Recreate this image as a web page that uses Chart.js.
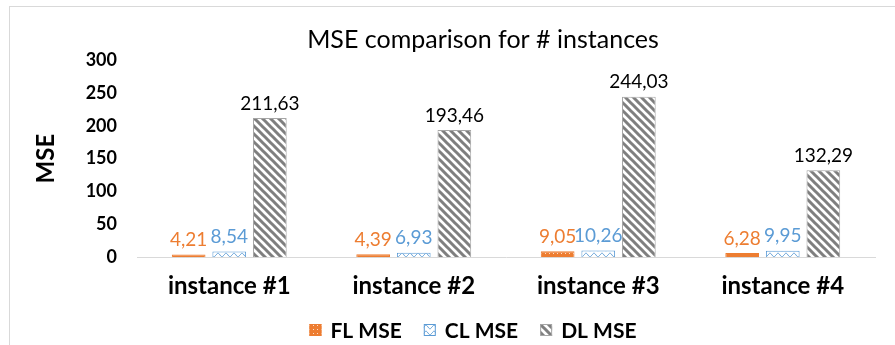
<!DOCTYPE html>
<html>
<head>
<meta charset="utf-8">
<script src="https://cdn.jsdelivr.net/npm/chart.js@4/dist/chart.umd.min.js"></script>
<style>
  html, body { margin: 0; padding: 0; background: #fff; overflow: hidden; }
  #wrap { position: relative; width: 895px; height: 345px; }
  #frame { position: absolute; left: 9px; top: 6px; width: 900px; height: 360px;
           border-left: 1px solid #d9d9d9; border-top: 1px solid #d9d9d9; }
  canvas { position: absolute; left: 0; top: 0; }
</style>
</head>
<body>
<div id="wrap">
  <div id="frame"></div>
  <canvas id="chart" width="895" height="345"></canvas>
</div>
<script>
// данные
const categories = ['instance #1', 'instance #2', 'instance #3', 'instance #4'];
const flMse = [4.21, 4.39, 9.05, 6.28];
const clMse = [8.54, 6.93, 10.26, 9.95];
const dlMse = [211.63, 193.46, 244.03, 132.29];
const yTicks = [0, 50, 100, 150, 200, 250, 300];
const chartTitle = 'MSE comparison for # instances';

const ORANGE = '#ED7D31';
const BLUE = '#5B9BD5';
const GREY = '#7F7F7F';

// узоры для заливки столбцов
function makePattern(w, h, draw) {
    const c = document.createElement('canvas');
    c.width = w; c.height = h;
    const g = c.getContext('2d');
    draw(g);
    return g.createPattern(c, 'repeat');
}

const flPattern = makePattern(4, 4, g => {
    g.fillStyle = ORANGE;
    g.fillRect(0, 0, 4, 4);
    g.fillStyle = 'rgba(255,255,255,0.75)';
    g.fillRect(1, 1, 1, 1);
});

const clPattern = makePattern(8, 6, g => {
    g.fillStyle = '#fff';
    g.fillRect(0, 0, 8, 6);
    g.strokeStyle = BLUE;
    g.lineWidth = 1;
    g.beginPath();
    g.moveTo(0, 3);
    g.bezierCurveTo(2, 0.5, 2, 0.5, 4, 3);
    g.bezierCurveTo(6, 5.5, 6, 5.5, 8, 3);
    g.stroke();
});

const dlPattern = makePattern(8, 8, g => {
    g.fillStyle = '#fff';
    g.fillRect(0, 0, 8, 8);
    g.strokeStyle = GREY;
    g.lineWidth = 3;
    g.beginPath();
    g.moveTo(-2, -2); g.lineTo(10, 10);
    g.moveTo(-10, -2); g.lineTo(2, 10);
    g.moveTo(6, -2); g.lineTo(18, 10);
    g.stroke();
});

const fmt = v => v.toFixed(2).replace('.', ',');

// подписи значений над столбцами
const valueLabels = {
    id: 'valueLabels',
    afterDatasetsDraw(chart) {
        const ctx = chart.ctx;
        ctx.save();
        ctx.font = '19px Lato';
        ctx.textAlign = 'center';
        ctx.textBaseline = 'bottom';
        chart.data.datasets.forEach((ds, i) => {
            const meta = chart.getDatasetMeta(i);
            ctx.fillStyle = ds.labelColor;
            meta.data.forEach((bar, j) => {
                ctx.fillText(fmt(ds.data[j]), bar.x, bar.y - 5);
            });
        });
        ctx.restore();
    }
};

// заголовок и легенда: заголовок по центру рамки, легенда внизу
const titleAndLegend = {
    id: 'titleAndLegend',
    afterDraw(chart) {
        const ctx = chart.ctx;
        ctx.save();
        ctx.fillStyle = '#000';
        ctx.font = '25px Lato';
        ctx.textAlign = 'center';
        ctx.textBaseline = 'middle';
        ctx.fillText(chartTitle, 483, 40);

        const box = 12, gap = 9, spacing = 22, y = 330;
        ctx.font = 'bold 21px Lato';
        ctx.textAlign = 'left';
        const items = chart.data.datasets.map(ds => ({ ds, w: ctx.measureText(ds.label).width }));
        const total = items.reduce((s, it) => s + box + gap + it.w, 0) + spacing * (items.length - 1);
        let x = 473 - total / 2;
        items.forEach(({ ds, w }) => {
            ctx.fillStyle = ds.backgroundColor;
            ctx.fillRect(x, y - box / 2, box, box);
            ctx.strokeStyle = ds.borderColor;
            ctx.lineWidth = 1;
            ctx.strokeRect(x + 0.5, y - box / 2 + 0.5, box - 1, box - 1);
            ctx.fillStyle = '#000';
            ctx.fillText(ds.label, x + box + gap, y + 1);
            x += box + gap + w + spacing;
        });
        ctx.restore();
    }
};

const ctx = document.getElementById('chart').getContext('2d');
const chart = new Chart(ctx, {
    type: 'bar',
    data: {
        labels: categories,
        datasets: [
            { label: 'FL MSE', data: flMse, backgroundColor: flPattern, borderColor: ORANGE,
              borderWidth: 1, labelColor: ORANGE },
            { label: 'CL MSE', data: clMse, backgroundColor: clPattern, borderColor: BLUE,
              borderWidth: 1, labelColor: BLUE },
            { label: 'DL MSE', data: dlMse, backgroundColor: dlPattern, borderColor: '#A5A5A5',
              borderWidth: 1, labelColor: '#000' }
        ]
    },
    options: {
        responsive: false,
        animation: false,
        categoryPercentage: 0.66,
        barPercentage: 0.83,
        layout: { padding: { top: 60, left: 26, right: 20, bottom: 29 } },
        plugins: {
            title: { display: false },
            legend: { display: false },
            tooltip: { enabled: false }
        },
        scales: {
            x: {
                grid: { display: false, drawTicks: false },
                border: { color: '#d9d9d9', width: 1 },
                ticks: {
                    color: '#000',
                    padding: 15,
                    font: { family: 'Lato', size: 24, weight: 'bold' }
                }
            },
            y: {
                min: 0,
                max: 300,
                afterBuildTicks: axis => { axis.ticks = yTicks.map(v => ({ value: v })); },
                afterFit: axis => { axis.width = 111; },
                grid: { display: false, drawTicks: false },
                border: { display: false },
                ticks: {
                    color: '#000',
                    padding: 20,
                    font: { family: 'Lato', size: 18, weight: 'bold' }
                },
                title: {
                    display: true,
                    text: 'MSE',
                    color: '#000',
                    font: { family: 'Lato', size: 24, weight: 'bold' },
                    padding: { top: 6, bottom: 0 }
                }
            }
        }
    },
    plugins: [valueLabels, titleAndLegend]
});
</script>
</body>
</html>
